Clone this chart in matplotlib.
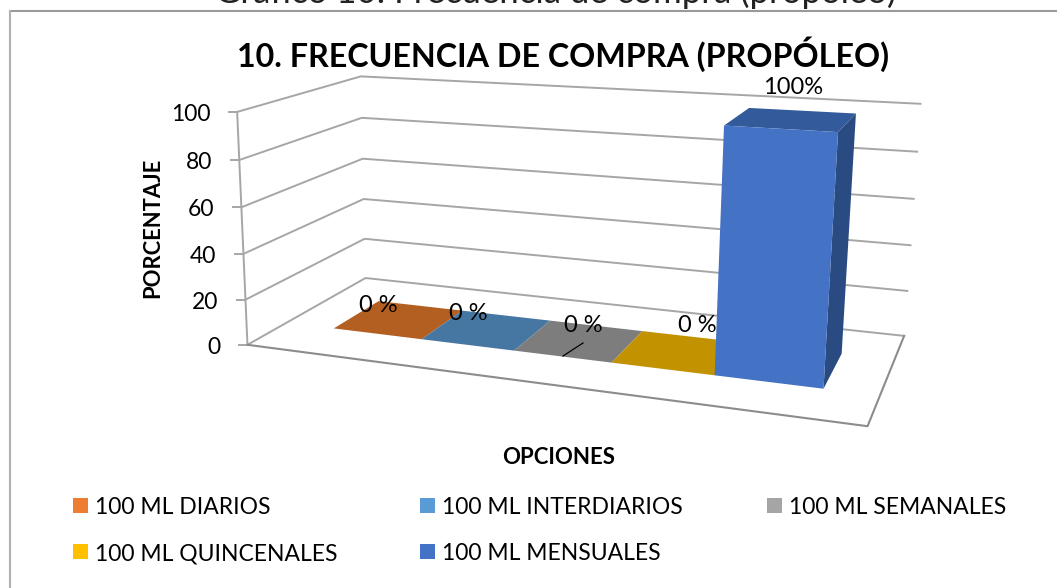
import numpy as np
import matplotlib
matplotlib.use("Agg")
import matplotlib.pyplot as plt
from matplotlib.patches import Polygon, Rectangle

# data
series = ["100 ML DIARIOS", "100 ML INTERDIARIOS", "100 ML SEMANALES",
          "100 ML QUINCENALES", "100 ML MENSUALES"]
values = [0, 0, 0, 0, 100]
value_labels = ["0 %", "0 %", "0 %", "0 %", "100%"]
y_ticks = [0, 20, 40, 60, 80, 100]
colors = ["#ED7D31", "#5B9BD5", "#A5A5A5", "#FFC000", "#4472C4"]
floor_colors = ["#B45F22", "#4676A2", "#7D7D7D", "#C29200", "#4472C4"]

plt.rcParams["font.family"] = ["Lato", "DejaVu Sans"]

W, H = 1057, 588
fig = plt.figure(figsize=(W / 100, H / 100), dpi=100)
ax = fig.add_axes([0, 0, 1, 1])
ax.set_xlim(0, W)
ax.set_ylim(H, 0)
ax.axis("off")

# 3d box of the chart: fit a camera from the corners seen in the picture
# world is (u along categories, w depth, v value/100)
world = [(0, 0, 0), (1, 0, 0), (1, 1, 0), (0, 1, 0), (0, 0, 1), (0, 1, 1), (1, 1, 1)]
screen = [(250, 345), (867, 427), (905, 335), (363, 278), (235, 111), (363, 77), (920, 104)]
rows = []
for (u, w, v), (px, py) in zip(world, screen):
    rows.append([u, w, v, 1, 0, 0, 0, 0, -px * u, -px * w, -px * v, -px])
    rows.append([0, 0, 0, 0, u, w, v, 1, -py * u, -py * w, -py * v, -py])
cam = np.linalg.svd(np.array(rows, dtype=float))[2][-1].reshape(3, 4)


def proj(u, w, val):
    p = cam @ np.array([u, w, val / 100.0, 1.0])
    return p[0] / p[2], p[1] / p[2]


grid = "#A6A6A6"
line = "#8C8C8C"
# walls
for t in y_ticks:
    ax.plot(*zip(proj(0, 0, t), proj(0, 1, t), proj(1, 1, t)), color=grid, lw=1.4, zorder=1)
    x0, y0 = proj(0, 0, t)
    ax.plot([x0 - 8, x0], [y0, y0], color=grid, lw=1.4, zorder=1)
    ax.text(x0 - 27, y0 + 2.5, str(t), ha="right", va="center", fontsize=16.5, color="black")
ax.plot(*zip(proj(0, 0, 0), proj(0, 0, 100)), color=grid, lw=1.4, zorder=1)
# floor outline
ax.plot(*zip(proj(0, 0, 0), proj(1, 0, 0), proj(1, 1, 0)), color=line, lw=1.5, zorder=1)

# bars, all series side by side in the one category
u_start, u_end = 0.092, 0.918
w0, w1 = 0.30, 0.70
bar_w = (u_end - u_start) / len(series)
for i, (val, c, fc) in enumerate(zip(values, colors, floor_colors)):
    a, b = u_start + i * bar_w, u_start + (i + 1) * bar_w
    if val == 0:
        ax.add_patch(Polygon([proj(a, w0, 0), proj(b, w0, 0), proj(b, w1, 0), proj(a, w1, 0)],
                             facecolor=fc, edgecolor="none", zorder=2))
    else:
        ax.add_patch(Polygon([proj(b, w0, 0), proj(b, w1, 0), proj(b, w1, val), proj(b, w0, val)],
                             facecolor="#2A4A82", edgecolor="none", zorder=3))
        ax.add_patch(Polygon([proj(a, w0, val), proj(b, w0, val), proj(b, w1, val), proj(a, w1, val)],
                             facecolor="#335A9A", edgecolor="none", zorder=3))
        ax.add_patch(Polygon([proj(a, w0, 0), proj(b, w0, 0), proj(b, w0, val), proj(a, w0, val)],
                             facecolor=c, edgecolor="none", zorder=4))

# value labels
label_pos = [(378, 305), (468, 314), (583, 325), (697, 326), (793, 88)]
for (lx, ly), s in zip(label_pos, value_labels):
    ax.text(lx, ly, s, ha="center", va="center", fontsize=17, color="black", zorder=6)
# small leader line under the third label
ax.plot([563, 583], [356, 343], color="black", lw=0.9, zorder=6)

# frame: only top and left edges are inside the picture
ax.plot([9.5, W], [10.5, 10.5], color="#9A9A9A", lw=1.5, zorder=0)
ax.plot([9.5, 9.5], [10.5, H], color="#B0B0B0", lw=1.5, zorder=0)
# caption of the page, cut by the top edge like in the scan
ax.text(556, 3, "Gráfico 10: Frecuencia de compra (propóleo)", ha="center", va="baseline",
        fontsize=25, color="#222222", zorder=7)
ax.text(563, 54.5, "10. FRECUENCIA DE COMPRA (PROPÓLEO)", ha="center", va="center",
        fontsize=23.2, fontweight="bold", color="black", zorder=7)
ax.text(153, 228, "PORCENTAJE", rotation=90, ha="center", va="center",
        fontsize=15.8, fontweight="bold", color="black")
ax.text(559, 458, "OPCIONES", ha="center", va="center",
        fontsize=16, fontweight="bold", color="black")

# legend
leg_x = [73, 420, 767, 73, 420]
leg_y = [505, 505, 505, 551, 551]
for x, y, s, c in zip(leg_x, leg_y, series, colors):
    ax.add_patch(Rectangle((x, y - 7), 15, 15, facecolor=c, edgecolor="none"))
    ax.text(x + 22, y + 2.5, s, ha="left", va="center", fontsize=16.5, color="black")

fig.savefig("out.png", dpi=100)
